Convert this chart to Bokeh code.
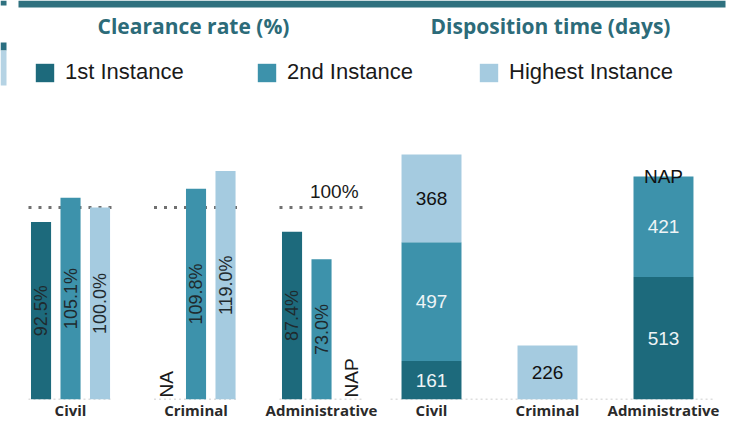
import math
from bokeh.plotting import figure
from bokeh.models import (ColumnDataSource, Range1d, FixedTicker, Label, Legend, LegendItem,
                          BoxAnnotation)
from bokeh.layouts import column, row
from bokeh.embed import file_html
from bokeh.resources import INLINE
from bokeh.core.properties import value

# ---------------- data ----------------
categories = ["Civil", "Criminal", "Administrative"]
instances = ["1st Instance", "2nd Instance", "Highest Instance"]

clearance_1st = [92.5, None, 87.4]
clearance_2nd = [105.1, 109.8, 73.0]
clearance_highest = [100.0, 119.0, None]
clearance_notes_1st = ["", "NA", ""]
clearance_notes_2nd = ["", "", ""]
clearance_notes_highest = ["", "", "NAP"]
clearance_target = 100.0
clearance_target_label = "100%"

disposition_1st = [161, None, 513]
disposition_2nd = [497, None, 421]
disposition_highest = [368, 226, None]
disposition_notes_highest = ["", "", "NAP"]

title_left = "Clearance rate (%)"
title_right = "Disposition time (days)"

# ---------------- style ----------------
COLORS = ["#1d6a7c", "#3d92ab", "#a5cbe0"]
TITLE_COLOR = "#2c6b79"
BAND_COLOR = "#2f717f"
DODGE = [-0.235, 0.0, 0.235]
LABEL_FONT = value("Liberation Sans")

HEADER_H = 100
CHART_H = 324
BOTTOM_BORDER = 25
FRAME_H = CHART_H - BOTTOM_BORDER
PX_PER_PCT = 1.92
PX_PER_DAY = 0.2388

# ---------------- header (titles + legend) ----------------
header = figure(width=732, height=HEADER_H, x_range=Range1d(0, 1), y_range=Range1d(0, 1),
                toolbar_location=None, output_backend="svg", min_border=0,
                x_axis_location=None, y_axis_location=None)
header.grid.visible = False
header.outline_line_color = None

# decorative band at the top and cut-off fragments at the left edge
for l, r_, b, t, c in [(18, 725, HEADER_H - 7, HEADER_H, BAND_COLOR),
                       (0, 6, HEADER_H - 5, HEADER_H, BAND_COLOR),
                       (0, 6, HEADER_H - 50, HEADER_H - 42, "#2a6e80"),
                       (0, 6, HEADER_H - 85, HEADER_H - 50, "#b5d3e4")]:
    header.add_layout(BoxAnnotation(left=l, right=r_, bottom=b, top=t,
                                    left_units="screen", right_units="screen",
                                    bottom_units="screen", top_units="screen",
                                    fill_color=c, fill_alpha=1.0, line_color=None))

for txt, xpos in [(title_left, 193), (title_right, 550)]:
    header.add_layout(Label(x=xpos, y=HEADER_H - 25, x_units="screen", y_units="screen",
                            text=txt, text_align="center", text_baseline="middle",
                            text_font="Open Sans", text_font_style="bold",
                            text_font_size="21px", text_color=TITLE_COLOR))

items = []
for inst, col in zip(instances, COLORS):
    # legend proxy: a single bar placed outside the header's visible range
    r = header.vbar(x=[5], top=[5], bottom=[4], width=0.5, fill_color=col, line_color=None)
    items.append(LegendItem(label=inst, renderers=[r]))
legend = Legend(items=items, orientation="horizontal", location=(33, HEADER_H - 85),
                padding=0, margin=0, spacing=0, glyph_width=23, glyph_height=23,
                label_standoff=9, label_width=190, label_height=23,
                label_text_font_size="22px", label_text_font="Liberation Sans",
                label_text_color="#1a1a1a", label_text_baseline="middle",
                border_line_color=None, background_fill_alpha=0)
header.add_layout(legend)


def style_chart(p):
    p.grid.visible = False
    p.outline_line_color = None
    p.xaxis.ticker = FixedTicker(ticks=list(range(len(categories))))
    p.xaxis.major_label_overrides = {i: c for i, c in enumerate(categories)}
    p.xaxis.axis_line_color = None
    p.xaxis.major_tick_line_color = None
    p.xaxis.minor_tick_line_color = None
    p.xaxis.major_tick_out = 0
    p.xaxis.major_tick_in = 0
    p.xaxis.minor_tick_out = 0
    p.xaxis.minor_tick_in = 0
    p.xaxis.major_label_standoff = 0
    p.xaxis.major_label_text_font = "Open Sans"
    p.xaxis.major_label_text_font_style = "bold"
    p.xaxis.major_label_text_font_size = "15px"
    p.xaxis.major_label_text_color = "#2a2a2a"


n = len(categories)

# ---------------- left chart: clearance rate ----------------
left = figure(width=378, height=CHART_H, x_range=Range1d(-0.558, 2.454),
              y_range=Range1d(0, FRAME_H / PX_PER_PCT),
              toolbar_location=None, output_backend="svg", y_axis_location=None,
              min_border=0, min_border_bottom=BOTTOM_BORDER)
style_chart(left)

left.segment(x0=[i - 0.335 for i in range(n)], x1=[i + 0.335 for i in range(n)],
             y0=[0] * n, y1=[0] * n, line_color="#bdbdbd", line_width=1.5, line_dash="2 3")
left.segment(x0=[i - 0.335 for i in range(n)], x1=[i + 0.335 for i in range(n)],
             y0=[clearance_target] * n, y1=[clearance_target] * n,
             line_color="#707070", line_width=3, line_dash="3 7")

series = [clearance_1st, clearance_2nd, clearance_highest]
notes = [clearance_notes_1st, clearance_notes_2nd, clearance_notes_highest]
for j, (vals, col) in enumerate(zip(series, COLORS)):
    xs = [i + DODGE[j] for i, v in enumerate(vals) if v is not None]
    tops = [v for v in vals if v is not None]
    src = ColumnDataSource(dict(x=xs, top=tops, y=[t / 2 for t in tops],
                                lab=[f"{t:.1f}%" for t in tops]))
    left.vbar(x="x", top="top", width=0.16, fill_color=col, line_color=None, source=src)
    left.text(x="x", y="y", text="lab", source=src, angle=math.pi / 2,
              text_align="center", text_baseline="middle", text_font=LABEL_FONT,
              text_font_size="18px", text_color="#1f2a2e")
    nx = [i + DODGE[j] for i, t in enumerate(notes[j]) if t]
    nt = [t for t in notes[j] if t]
    if nt:
        left.text(x=nx, y=[0] * len(nx), text=nt, angle=math.pi / 2, y_offset=-2,
                  text_align="left", text_baseline="middle",
                  text_font=LABEL_FONT, text_font_size="19px", text_color="#1a1a1a")

left.text(x=[2.295], y=[clearance_target], text=[clearance_target_label], y_offset=-6,
          text_align="right", text_baseline="bottom", text_font=LABEL_FONT,
          text_font_size="19px", text_color="#1a1a1a")

# ---------------- right chart: disposition time ----------------
right = figure(width=354, height=CHART_H, x_range=Range1d(-0.457, 2.595),
               y_range=Range1d(0, FRAME_H / PX_PER_DAY),
               toolbar_location=None, output_backend="svg", y_axis_location=None,
               min_border=0, min_border_bottom=BOTTOM_BORDER)
style_chart(right)

right.segment(x0=[-0.353], x1=[2.43], y0=[0], y1=[0], line_color="#bdbdbd",
              line_width=1.5, line_dash="2 3")

dseries = [disposition_1st, disposition_2nd, disposition_highest]
label_colors = ["#eef4f6", "#eef4f6", "#111111"]
bottom = [0.0] * n
for j, (vals, col) in enumerate(zip(dseries, COLORS)):
    v = [x if x is not None else 0 for x in vals]
    top = [b + x for b, x in zip(bottom, v)]
    right.vbar(x=list(range(n)), bottom=bottom, top=top, width=0.517,
               fill_color=col, line_color=None)
    lx = [i for i, x in enumerate(vals) if x is not None]
    ly = [(bottom[i] + top[i]) / 2 for i in lx]
    lt = [str(vals[i]) for i in lx]
    right.text(x=lx, y=ly, text=lt, text_align="center", text_baseline="middle",
               text_font=LABEL_FONT, text_font_size="19px", text_color=label_colors[j])
    bottom = top

nx = [i for i, t in enumerate(disposition_notes_highest) if t]
right.text(x=nx, y=[bottom[i] for i in nx], text=[disposition_notes_highest[i] for i in nx],
           text_align="center", text_baseline="middle", text_font=LABEL_FONT,
           text_font_size="19px", text_color="#111111")

layout = column(header, row(left, right, spacing=0), spacing=0)
open("out.html", "w").write(file_html(layout, INLINE))
